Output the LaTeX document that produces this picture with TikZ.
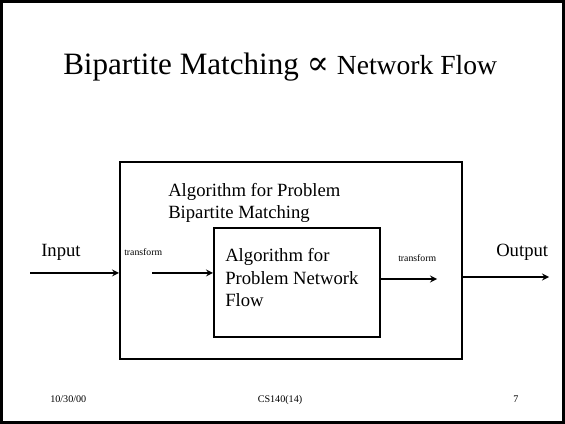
\documentclass[tikz,border=0pt]{standalone}
\usepackage{fontspec}
\setmainfont{Liberation Serif}
\newfontfamily\propfont{DejaVu Serif}
\usepackage{amsmath}
\usetikzlibrary{calc}

\begin{document}
\begin{tikzpicture}[x=0.75pt,y=-0.75pt]
    % Styles for boxes, texts and lines
    \tikzset{
      box/.style={rectangle, draw=black, line width=1.5pt, inner sep=0pt},
      label/.style={inner sep=0pt, anchor=base west, align=left},
      arrow/.style={line width=1.3pt,->,>=stealth}
    }
    \useasboundingbox (0,0) rectangle (565,424);
    \draw[line width=1.6pt] (1.5,1.5) rectangle (563.5,422.5);

    % Title
    \node[label] (title) at (63,74.5) {\fontsize{23.3}{28}\selectfont Bipartite Matching
      {\propfont\fontsize{25}{28}\selectfont ∝} \fontsize{20.7}{25}\selectfont Network Flow};

    % Boxes with explicit coordinates
    \node[box, minimum width=256.5pt, minimum height=147.75pt] (outer) at (291,260.5) {};
    \node[box, minimum width=124.5pt, minimum height=81.75pt] (inner) at (297,282.5) {};

    \node[label, font=\fontsize{14}{16.5}\selectfont] (outerText) at (168,219)
      {Algorithm for Problem\\Bipartite Matching};
    \node[label, font=\fontsize{14}{17}\selectfont] (innerText) at (225,307)
      {Algorithm for\\Problem Network\\Flow};

    \node[label, font=\fontsize{14}{16}\selectfont] (input) at (41,257) {Input};
    \node[label, font=\fontsize{14}{16}\selectfont] (output) at (496,257) {Output};
    \node[label, font=\fontsize{7.3}{9}\selectfont] (tfLeft) at (124,256) {transform};
    \node[label, font=\fontsize{7.3}{9}\selectfont] (tfRight) at (398,262) {transform};

    % Arrow ends
    \coordinate (inStart) at (30,273);
    \coordinate (tfStart) at (152,273);
    \coordinate (tfEnd) at (437,279);
    \coordinate (outEnd) at (549,277);

    % Arrows
    \draw[arrow] (inStart) -- (inStart -| outer.west);
    \draw[arrow] (tfStart) -- (tfStart -| inner.west);
    \draw[arrow] (tfEnd -| inner.east) -- (tfEnd);
    \draw[arrow] (outEnd -| outer.east) -- (outEnd);

    % Footer
    \node[label, font=\fontsize{7.6}{9}\selectfont] (date) at (50,402.5) {10/30/00};
    \node[inner sep=0pt, anchor=base, font=\fontsize{7.6}{9}\selectfont] (course) at (280,402.5) {CS140(14)};
    \node[label, font=\fontsize{7.6}{9}\selectfont] (page) at (513,402.5) {7};
\end{tikzpicture}
\end{document}
